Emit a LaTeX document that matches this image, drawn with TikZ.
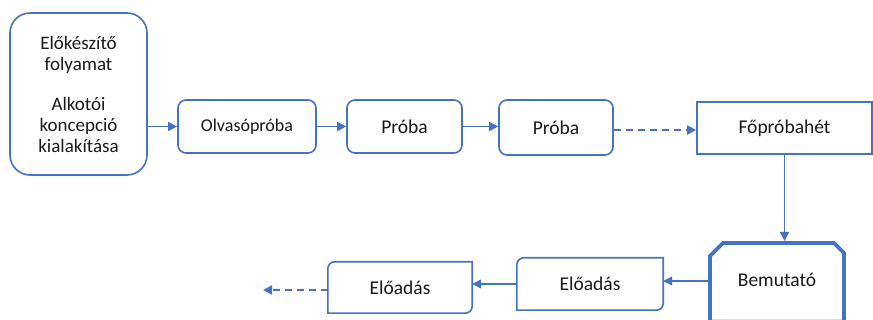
\documentclass[tikz,border=0pt]{standalone}
\usepackage{fontspec}
\setmainfont{Carlito}
\usetikzlibrary{arrows.meta,calc}
\definecolor{lineblue}{HTML}{4472C4}
\definecolor{txt}{HTML}{1A1A1A}
\definecolor{paleblue}{HTML}{CFE2F3}
\begin{document}
\begin{tikzpicture}[x=1pt,y=1pt,
  box/.style={draw=lineblue, line width=1.6pt, inner sep=0pt, text=txt, align=center},
  rbox/.style={box, rounded corners=8pt},
  plain/.style={inner sep=0pt, text=txt, align=center},
  conn/.style={draw=lineblue, line width=1.3pt, -{Triangle[length=9pt,width=9pt]}},
  dconn/.style={conn, line width=1.9pt, dash pattern=on 7pt off 5pt},
  big/.style={font=\fontsize{19.5}{21}\selectfont},
  mid/.style={font=\fontsize{18}{21}\selectfont}
]
\clip (0,0) rectangle (873,-320);
\fill[white] (0,0) rectangle (873,-320);

% top row
\node[box, rounded corners=20pt, minimum width=137pt, minimum height=162pt,
      font=\fontsize{19}{21}\selectfont] (prep) at (78.5,-94)
  {Előkészítő\\folyamat\\[19pt]Alkotói\\koncepció\\kialakítása};
\node[rbox, mid, minimum width=138pt, minimum height=53pt] (olv) at (247,-126.5) {Olvasópróba};
\node[rbox, big, minimum width=115pt, minimum height=53pt] (pr1) at (404.5,-126.5) {Próba};
\node[rbox, big, minimum width=114pt, minimum height=55pt] (pr2) at (556,-127.5) {Próba};
\node[box, big, minimum width=175pt, minimum height=52pt] (fop) at (784.5,-128) {Főpróbahét};

% Bemutató (chamfered top corners, thick border)
\draw[draw=paleblue, line width=1.2pt] (712,-319.4) -- (842,-319.4);
\draw[draw=lineblue, line width=3.8pt, line join=miter]
  (710,-340) -- (710,-256) -- (723,-243) -- (834,-243) -- (844,-253) -- (844,-340);
\node[plain, big] (bem) at (777,-280) {Bemutató};
\coordinate (bemTop) at (784.5,-243);
\coordinate (bemLeft) at (709,-281);

% bottom row: top-left and bottom-right rounded
\node[plain, big, minimum width=146pt, minimum height=52pt] (ele2) at (590,-284) {Előadás};
\node[plain, big, minimum width=144pt, minimum height=51pt] (ele1) at (400,-287.5) {Előadás};
\foreach \n in {ele2,ele1}{
  \draw[draw=lineblue, line width=1.6pt]
    (\n.south west) -- ($(\n.north west)+(0,-7)$) arc[start angle=180,end angle=90,radius=7pt]
    -- (\n.north east) -- ($(\n.south east)+(0,7)$) arc[start angle=0,end angle=-90,radius=7pt]
    -- cycle;
}
\coordinate (dEnd) at (263,-290);
\coordinate (dTop) at (614,-130);

% connectors
\draw[conn] (olv.west -| prep.east) -- (olv.west);
\draw[conn] (olv.east) -- (olv.east -| pr1.west);
\draw[conn] (pr1.east) -- (pr1.east -| pr2.west);
\draw[dconn] (dTop -| pr2.east) -- (dTop -| fop.west);
\draw[conn] (fop.south) -- ($(bemTop)+(0,2)$);
\draw[conn] (bemLeft) -- (bemLeft -| ele2.east);
\draw[conn] (ele2.west) -- (ele2.west -| ele1.east);
\draw[dconn] (dEnd -| ele1.west) -- (dEnd);
\end{tikzpicture}
\end{document}
